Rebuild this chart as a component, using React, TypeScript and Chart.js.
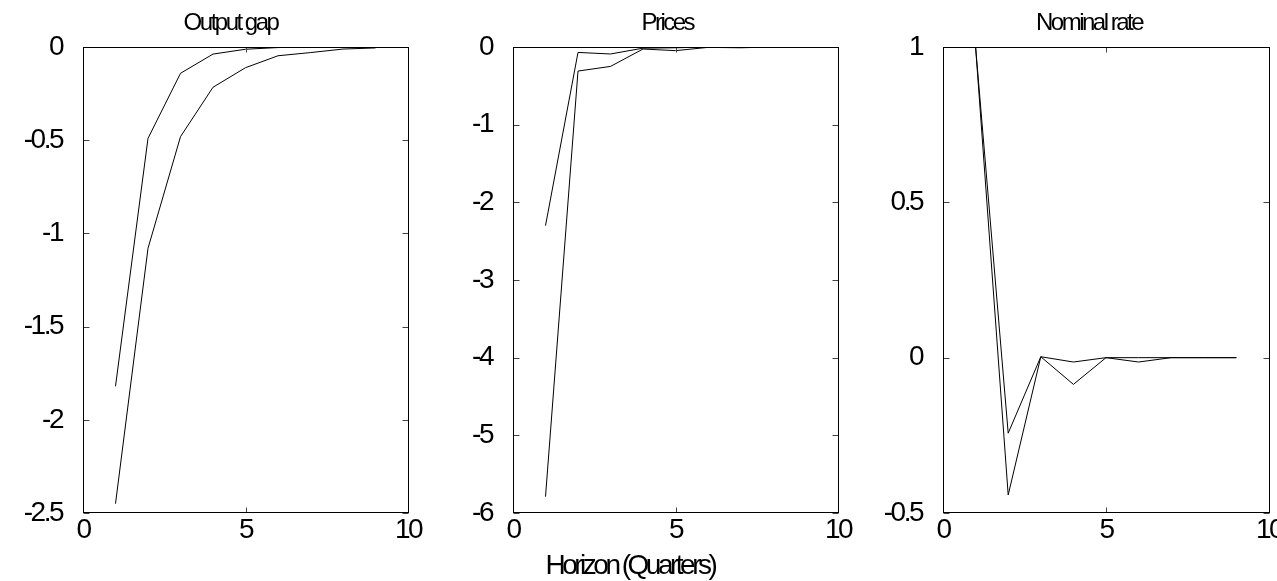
import React, { useEffect, useRef } from 'react';
import { Chart, registerables } from 'chart.js';

Chart.register(...registerables);

// ---- data ----
const horizon = [1, 2, 3, 4, 5, 6, 7, 8, 9];

const outputGapA = [-1.82, -0.49, -0.141, -0.038, -0.012, -0.003, -0.001, 0, 0];
const outputGapB = [-2.45, -1.08, -0.481, -0.216, -0.111, -0.047, -0.03, -0.011, -0.005];

const pricesA = [-2.3, -0.07, -0.09, -0.015, -0.01, 0, 0, 0, 0];
const pricesB = [-5.79, -0.31, -0.25, -0.026, -0.047, -0.005, -0.01, 0, 0];

const nominalRateA = [1.0, -0.243, 0.003, -0.014, 0, 0, 0, 0, 0];
const nominalRateB = [1.0, -0.442, 0.003, -0.086, 0, -0.014, 0, 0, 0];

const panelTitles = ['Output gap', 'Prices', 'Nominal rate'];
const xAxisLabel = 'Horizon (Quarters)';
const xRange = [0, 10];
const xStep = 5;
const yRanges = [
  [-2.5, 0],
  [-6, 0],
  [-0.5, 1],
];
const ySteps = [0.5, 1, 0.5];

const FONT = '"Liberation Sans", Arial, Helvetica, sans-serif';

const toPoints = (ys: number[]) => horizon.map((x, i) => ({ x, y: ys[i] }));
const fmt = (v: any) => String(Number(Number(v).toFixed(3)));

const panels = [
  { title: panelTitles[0], a: outputGapA, b: outputGapB, yr: yRanges[0], ys: ySteps[0], xl: '', padRight: 22 },
  { title: panelTitles[1], a: pricesA, b: pricesB, yr: yRanges[1], ys: ySteps[1], xl: xAxisLabel, padRight: 22 },
  { title: panelTitles[2], a: nominalRateA, b: nominalRateB, yr: yRanges[2], ys: ySteps[2], xl: '', padRight: 21 },
];

const framePlugin = {
  id: 'frame',
  beforeDraw(chart: any) {
    (chart.ctx as any).letterSpacing = '-2.5px';
  },
  afterDraw(chart: any, _args: any, opts: any) {
    const ctx = chart.ctx as CanvasRenderingContext2D;
    const { left, right, top, bottom } = chart.chartArea;
    const L = Math.round(left) + 0.5;
    const R = Math.round(right) + 0.5;
    const T = Math.round(top) + 0.5;
    const B = Math.round(bottom) - 0.5;
    ctx.save();
    // inward tick marks
    ctx.strokeStyle = '#444';
    ctx.lineWidth = 1;
    ctx.beginPath();
    const ys = chart.scales.y;
    ys.ticks.forEach((t: any) => {
      const py = Math.round(ys.getPixelForValue(t.value)) + 0.5;
      ctx.moveTo(L, py);
      ctx.lineTo(L + 6, py);
      ctx.moveTo(R, py);
      ctx.lineTo(R - 6, py);
    });
    const xs = chart.scales.x;
    xs.ticks.forEach((t: any) => {
      const px = Math.round(xs.getPixelForValue(t.value)) + 0.5;
      ctx.moveTo(px, B);
      ctx.lineTo(px, B - 5);
      ctx.moveTo(px, T);
      ctx.lineTo(px, T + 5);
    });
    ctx.stroke();
    // frame box
    ctx.strokeStyle = '#000';
    ctx.lineWidth = 1;
    ctx.strokeRect(L, T, R - L, B - T);
    // title
    const cx = (left + right) / 2;
    ctx.fillStyle = '#000';
    ctx.textAlign = 'left';
    ctx.textBaseline = 'alphabetic';
    (ctx as any).letterSpacing = '-2.5px';
    ctx.font = `24px ${FONT}`;
    if (opts.title) {
      const w = ctx.measureText(opts.title).width;
      ctx.fillText(opts.title, cx - w * 0.66, 30);
    }
    if (opts.xLabel) {
      ctx.font = `28px ${FONT}`;
      (ctx as any).letterSpacing = '-3.5px';
      const w = ctx.measureText(opts.xLabel).width;
      ctx.fillText(opts.xLabel, cx - w * 0.77, 574);
    }
    ctx.restore();
  },
};

function Panel({ cfg, left }: { cfg: any; left: number }) {
  const ref = useRef<HTMLCanvasElement>(null);
  useEffect(() => {
    if (!ref.current) return;
    const chart = new Chart(ref.current, {
      type: 'line',
      data: {
        datasets: [
          { data: toPoints(cfg.a), borderColor: '#000', borderWidth: 1, pointRadius: 0, fill: false, tension: 0 },
          { data: toPoints(cfg.b), borderColor: '#000', borderWidth: 1, pointRadius: 0, fill: false, tension: 0 },
        ],
      },
      options: {
        responsive: false,
        animation: false,
        events: [],
        layout: { padding: { left: 0, right: cfg.padRight, top: 47, bottom: 0 } },
        plugins: {
          legend: { display: false },
          tooltip: { enabled: false },
          title: { display: false },
          frame: { title: cfg.title, xLabel: cfg.xl },
        } as any,
        scales: {
          x: {
            type: 'linear',
            min: xRange[0],
            max: xRange[1],
            grid: { display: false, drawTicks: false },
            border: { display: false },
            ticks: { stepSize: xStep, color: '#000', padding: 0, font: { family: FONT, size: 28 }, callback: fmt },
            afterFit: (s: any) => {
              s.height = 68;
            },
          },
          y: {
            type: 'linear',
            min: cfg.yr[0],
            max: cfg.yr[1],
            grid: { display: false, drawTicks: false },
            border: { display: false },
            ticks: { stepSize: cfg.ys, color: '#000', padding: 21, font: { family: FONT, size: 28 }, callback: fmt },
            afterFit: (s: any) => {
              s.width = 83;
            },
          },
        },
      },
      plugins: [framePlugin as any],
    });
    return () => chart.destroy();
  }, [cfg]);
  return (
    <canvas
      ref={ref}
      width={430}
      height={581}
      style={{ position: 'absolute', left, top: 0, width: 430, height: 581 }}
    />
  );
}

export default function App() {
  return (
    <div
      style={{
        position: 'absolute',
        left: 0,
        top: 0,
        width: 1277,
        height: 581,
        overflow: 'hidden',
        background: '#fff',
      }}
    >
      {panels.map((p, i) => (
        <Panel key={i} cfg={p} left={i * 430} />
      ))}
    </div>
  );
}
